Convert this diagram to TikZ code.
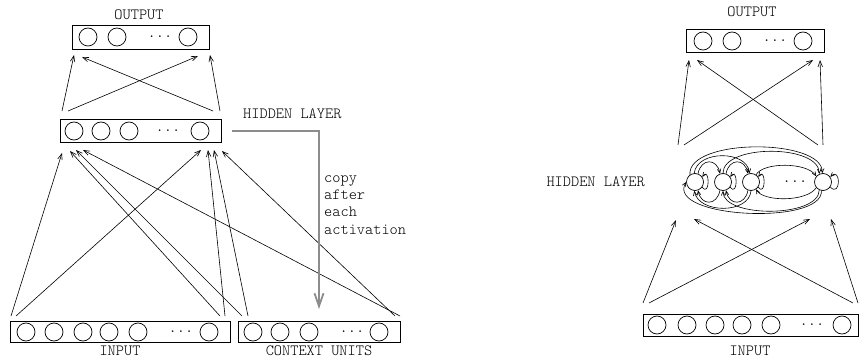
\documentclass[tikz,border=0pt]{standalone}
\usepackage{fontspec}
\newfontfamily\labttf{lmmonolt10-regular.otf}
\usetikzlibrary{arrows.meta,calc}
\definecolor{copygray}{gray}{0.55}
\newcommand\labfont{\fontsize{15.6}{17}\selectfont\labttf}

\tikzset{
  unit/.style={circle, draw, line width=0.7pt, minimum size=18pt, inner sep=0pt},
  layerbox/.style={draw, line width=0.8pt, inner sep=0pt},
  lbl/.style={font=\labfont, inner sep=0pt, anchor=base},
  ellip/.style={font=\labfont, inner sep=0pt},
  conn/.style={line width=0.6pt, -{Straight Barb[length=6pt,width=4.5pt]}},
  rec/.style={line width=0.6pt, -{Straight Barb[length=4pt,width=3.5pt]}},
  copyarrow/.style={line width=1.8pt, draw=copygray, line join=miter,
    -{Straight Barb[length=13pt,width=9pt,line width=1.8pt]}}
}

\begin{document}
\begin{tikzpicture}[x=1pt,y=-1pt]
\useasboundingbox (0,0) rectangle (859,358);

% ---------------- simple recurrent network (left) ----------------
% output layer
\node[layerbox, minimum width=137pt, minimum height=24pt] (outL) at (140.5,37) {};
\node[unit] (oL1) at (88,37) {};
\node[unit] (oL2) at (117,37) {};
\node[ellip] (oLd) at (160,37) {...};
\node[unit] (oLn) at (188,37) {};
\node[lbl] (outLlab) at (139,20) {OUTPUT};

% hidden layer
\node[layerbox, minimum width=161pt, minimum height=23pt] (hidL) at (140.5,130.5) {};
\node[unit] (hL1) at (74,131) {};
\node[unit] (hL2) at (101,131) {};
\node[unit] (hL3) at (129,131) {};
\node[ellip] (hLd) at (168,131) {...};
\node[unit] (hLn) at (200,131) {};
\node[lbl, anchor=base west] (hidLlab) at (243,119) {HIDDEN LAYER};

% input layer
\node[layerbox, minimum width=220pt, minimum height=21pt] (inL) at (120,331.5) {};
\foreach \x [count=\i] in {26,54,83,109,138}
  \node[unit] (iL\i) at (\x,332) {};
\node[ellip] (iLd) at (181,332) {...};
\node[unit] (iLn) at (209,332) {};
\node[lbl] (inLlab) at (120,355) {INPUT};

% context units
\node[layerbox, minimum width=162pt, minimum height=21pt] (ctx) at (319,331.5) {};
\node[unit] (c1) at (253,332) {};
\node[unit] (c2) at (280,332) {};
\node[unit] (c3) at (309,332) {};
\node[ellip] (cd) at (352,332) {...};
\node[unit] (cn) at (379,332) {};
\node[lbl] (ctxlab) at (319,355) {CONTEXT UNITS};

% connector end points
\coordinate (hLo1) at (62,111);  \coordinate (oLa) at (74,55);
\coordinate (hLo2) at (68,111);  \coordinate (oLb) at (198,56);
\coordinate (hLo3) at (213,111); \coordinate (oLc) at (82,57);
\coordinate (hLo4) at (220,111); \coordinate (oLd2) at (210,55);

\coordinate (iLa) at (11,316);  \coordinate (hLa) at (62,153);
\coordinate (iLb) at (16,316);  \coordinate (hLb) at (201,150);
\coordinate (iLc) at (220,316); \coordinate (hLc) at (70,151);
\coordinate (iLe) at (225,316); \coordinate (hLe) at (208,150);
\coordinate (cA) at (242,316);  \coordinate (hLf) at (76,150);
\coordinate (cB) at (248,316);  \coordinate (hLg) at (214,150);
\coordinate (cC) at (395,316);  \coordinate (hLh) at (222,151);
\coordinate (cD) at (400,316);  \coordinate (hLi) at (83,150);

% hidden -> output
\draw[conn] (hLo1) -- (oLa);
\draw[conn] (hLo2) -- (oLb);
\draw[conn] (hLo3) -- (oLc);
\draw[conn] (hLo4) -- (oLd2);

% input and context -> hidden
\draw[conn] (iLa) -- (hLa);
\draw[conn] (iLb) -- (hLb);
\draw[conn] (iLc) -- (hLc);
\draw[conn] (iLe) -- (hLe);
\draw[conn] (cA) -- (hLf);
\draw[conn] (cB) -- (hLg);
\draw[conn] (cC) -- (hLh);
\draw[conn] (cD) -- (hLi);

% copy of the hidden activations into the context units
\coordinate (cpA) at (232,131);
\coordinate (cpB) at (319,131);
\coordinate (cpC) at (319,309);
\draw[copyarrow] (cpA) -- (cpB) -- (cpC);
\node[lbl, anchor=base west] (copy1) at (324,183) {copy};
\node[lbl, anchor=base west] (copy2) at (324,200) {after};
\node[lbl, anchor=base west] (copy3) at (324,217) {each};
\node[lbl, anchor=base west] (copy4) at (324,234) {activation};

% ---------------- fully recurrent network (right) ----------------
\node[layerbox, minimum width=138pt, minimum height=23pt] (outR) at (755,40.5) {};
\node[unit] (oR1) at (703,41) {};
\node[unit] (oR2) at (732,41) {};
\node[ellip] (oRd) at (775,41) {...};
\node[unit] (oRn) at (803,41) {};
\node[lbl] (outRlab) at (752,17) {OUTPUT};

% hidden units
\node[unit, minimum size=17pt] (h1) at (695,182) {};
\node[unit, minimum size=17pt] (h2) at (723,182) {};
\node[unit, minimum size=17pt] (h3) at (751,182) {};
\node[ellip] (hd) at (795,182) {...};
\node[unit, minimum size=17pt] (hn) at (823,182) {};
\node[lbl, anchor=base east] (hidRlab) at (645,186) {HIDDEN LAYER};

% input layer
\node[layerbox, minimum width=215pt, minimum height=22pt] (inR) at (750.5,325) {};
\foreach \x [count=\i] in {657,687,715,742,771}
  \node[unit] (iR\i) at (\x,325) {};
\node[ellip] (iRd) at (812,325) {...};
\node[unit] (iRn) at (842,325) {};
\node[lbl] (inRlab) at (750,355) {INPUT};

% connector end points
\coordinate (hRo1) at (678,145); \coordinate (oRa) at (689,60);
\coordinate (hRo2) at (684,145); \coordinate (oRb) at (813,60);
\coordinate (hRo3) at (818,145); \coordinate (oRc) at (697,60);
\coordinate (hRo4) at (823,145); \coordinate (oRd2) at (820,60);

\coordinate (iRa) at (643,303); \coordinate (hRa) at (676,220);
\coordinate (iRb) at (649,303); \coordinate (hRb) at (810,219);
\coordinate (iRc) at (853,303); \coordinate (hRc) at (694,219);
\coordinate (iRe) at (858,303); \coordinate (hRe) at (831,219);

\draw[conn] (hRo1) -- (oRa);
\draw[conn] (hRo2) -- (oRb);
\draw[conn] (hRo3) -- (oRc);
\draw[conn] (hRo4) -- (oRd2);

\draw[conn] (iRa) -- (hRa);
\draw[conn] (iRb) -- (hRb);
\draw[conn] (iRc) -- (hRc);
\draw[conn] (iRe) -- (hRe);

% recurrent links: forward ones above, backward ones below
\draw[rec] (h1.70) .. controls ($(h1)+(6,-24)$) and ($(h2)+(-6,-24)$) .. (h2.110);
\draw[rec] (h2.70) .. controls ($(h2)+(6,-24)$) and ($(h3)+(-6,-24)$) .. (h3.110);
\draw[rec] (h1.95) .. controls ($(h1)+(2,-32)$) and ($(h3)+(-4,-32)$) .. (h3.100);
\draw[rec] (h1.125) .. controls ($(h1)+(-8,-44)$) and ($(hn)+(0,-44)$) .. (hn.95);
\draw[rec] (h2.90) .. controls ($(h2)+(0,-38)$) and ($(hn)+(-4,-38)$) .. (hn.115);
\draw[rec] (h3.55) .. controls ($(h3)+(12,-20)$) and ($(hn)+(-16,-20)$) .. (hn.140);

\draw[rec] (h2.-110) .. controls ($(h2)+(-6,24)$) and ($(h1)+(6,24)$) .. (h1.-70);
\draw[rec] (h3.-110) .. controls ($(h3)+(-6,24)$) and ($(h2)+(6,24)$) .. (h2.-70);
\draw[rec] (h3.-90) .. controls ($(h3)+(-2,32)$) and ($(h1)+(4,32)$) .. (h1.-95);
\draw[rec] (hn.-100) .. controls ($(hn)+(0,44)$) and ($(h1)+(-30,36)$) .. (h1.180);
\draw[rec] (hn.-115) .. controls ($(hn)+(-4,36)$) and ($(h2)+(0,36)$) .. (h2.-90);
\draw[rec] (hn.-140) .. controls ($(hn)+(-16,20)$) and ($(h3)+(12,20)$) .. (h3.-55);

% self connections
\draw[rec] (h1.-35) .. controls ($(h1)+(15,16)$) and ($(h1)+(15,-16)$) .. (h1.35);
\draw[rec] (h2.-35) .. controls ($(h2)+(15,16)$) and ($(h2)+(15,-16)$) .. (h2.35);
\draw[rec] (h3.-35) .. controls ($(h3)+(15,16)$) and ($(h3)+(15,-16)$) .. (h3.35);
\draw[rec] (hn.-35) .. controls ($(hn)+(18,16)$) and ($(hn)+(18,-16)$) .. (hn.35);
\end{tikzpicture}
\end{document}
